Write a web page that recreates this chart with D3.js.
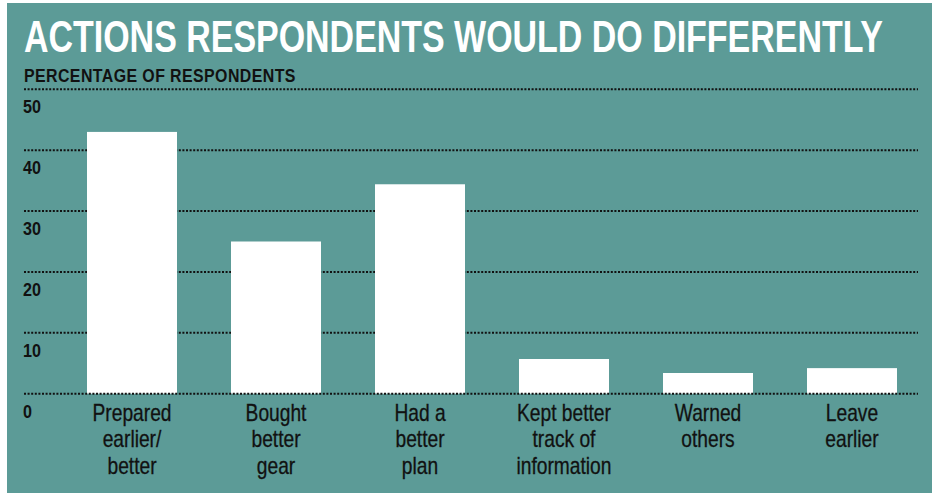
<!DOCTYPE html>
<meta charset="utf-8">
<script src="https://cdn.jsdelivr.net/npm/d3@7"></script>
<style>
  body { margin: 0; background: #fff; }
  text { font-family: "Liberation Sans", Arial, sans-serif; }
</style>
<body>
<script>

// data
var categories = [
  ["Prepared", "earlier/", "better"],
  ["Bought", "better", "gear"],
  ["Had a", "better", "plan"],
  ["Kept better", "track of", "information"],
  ["Warned", "others"],
  ["Leave", "earlier"]
];
var values = [43.0, 25.0, 34.4, 5.7, 3.4, 4.2];
var yTicks = [0, 10, 20, 30, 40, 50];

var W = 936, H = 493;
var teal = "#5c9b97";

var svg = d3.select("body").append("svg")
    .attr("width", W)
    .attr("height", H);

// panel
svg.append("rect")
    .attr("x", 7).attr("y", 3)
    .attr("width", 925).attr("height", 490)
    .attr("fill", teal);

var x = d3.scaleBand()
    .domain(d3.range(categories.length))
    .range([87, 897])
    .paddingInner(0.375)
    .paddingOuter(0);

var y = d3.scaleLinear()
    .domain([0, 50])
    .range([393.7, 89.3]);

// squeeze a text horizontally so it spans `width` px from its left edge
function fitWidth(t, left, base, width) {
  var w = t.node().getComputedTextLength();
  t.attr("transform", "translate(" + left + "," + base + ") scale(" + (width / w) + ",1)");
}

// title + subtitle
var title = svg.append("text")
    .style("font-size", "44px")
    .style("font-weight", "bold")
    .attr("fill", "#fff")
    .text("ACTIONS RESPONDENTS WOULD DO DIFFERENTLY");
fitWidth(title, 24, 52, 859);

var sub = svg.append("text")
    .style("font-size", "19px")
    .style("font-weight", "bold")
    .style("letter-spacing", "0.5px")
    .attr("fill", "#111")
    .text("PERCENTAGE OF RESPONDENTS");
fitWidth(sub, 24, 82.3, 272);

// gridlines (everything but zero, which sits over the bars)
function gridLine(g, v) {
  g.append("line")
      .attr("x1", 24).attr("x2", 918)
      .attr("y1", y(v)).attr("y2", y(v))
      .attr("stroke", "#111")
      .attr("stroke-width", 2)
      .attr("stroke-dasharray", "2,1.6");
}
var grid = svg.append("g");
yTicks.filter(function(v) { return v > 0; }).forEach(function(v) { gridLine(grid, v); });

// tick labels, hung below their line
svg.append("g").selectAll("text")
    .data(yTicks)
    .enter().append("text")
    .attr("transform", function(d) {
      return "translate(23," + (y(d) + 24) + ") scale(0.95,1.1)";
    })
    .style("font-size", "17px")
    .style("font-weight", "bold")
    .attr("fill", "#111")
    .text(function(d) { return d; });

// bars
svg.append("g").selectAll("rect")
    .data(values)
    .enter().append("rect")
    .attr("x", function(d, i) { return x(i); })
    .attr("y", function(d) { return y(d); })
    .attr("width", x.bandwidth())
    .attr("height", function(d) { return y(0) - y(d); })
    .attr("fill", "#fff");

gridLine(svg.append("g"), 0);

// category labels
var lab = svg.append("g").selectAll("g")
    .data(categories)
    .enter().append("g")
    .attr("transform", function(d, i) {
      return "translate(" + (x(i) + x.bandwidth() / 2) + ",0)";
    });

lab.selectAll("text")
    .data(function(d) { return d; })
    .enter().append("text")
    .attr("transform", function(d, j) {
      return "translate(0," + (420.7 + j * 26.7) + ") scale(0.8,1)";
    })
    .attr("text-anchor", "middle")
    .style("font-size", "24px")
    .attr("fill", "#111")
    .attr("stroke", "#111")
    .attr("stroke-width", 0.3)
    .text(function(d) { return d; });

</script>
</body>
